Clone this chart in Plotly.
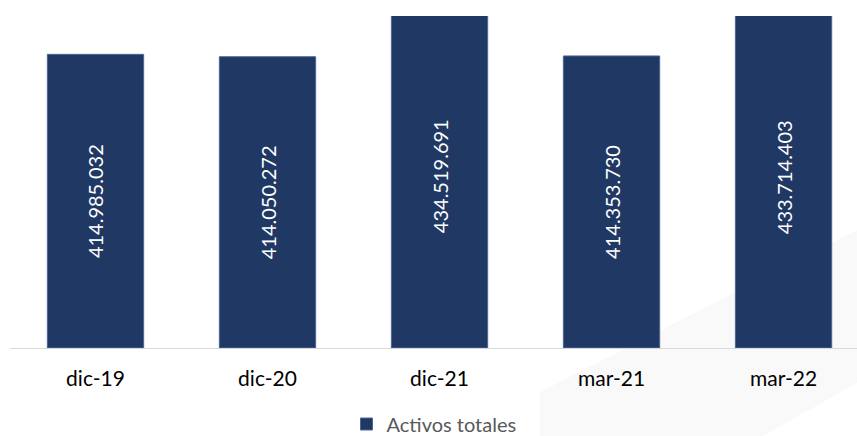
import plotly.graph_objects as go

categories = ["dic-19", "dic-20", "dic-21", "mar-21", "mar-22"]
values = [414.985032, 414.050272, 434.519691, 414.353730, 433.714403]
labels = ["414.985.032", "414.050.272", "434.519.691", "414.353.730", "433.714.403"]
series_name = "Activos totales"
axis_min, axis_max = 300, 430

W, H = 857, 436
L, R, T, B = 10, 0, 16, 88
pw, ph = W - L - R, H - T - B

def px(x):
    return (x - L) / pw

def py(y):
    return (H - B - y) / ph

fig = go.Figure()
fig.add_trace(go.Bar(
    x=categories, y=[v - axis_min for v in values], base=axis_min, name=series_name,
    marker=dict(color="#203864", line=dict(color="#4d6694", width=1)),
    text=labels, textposition="inside", textangle=-90,
    insidetextanchor="middle",
    textfont=dict(family="Lato", size=20, color="white"),
    cliponaxis=True,
))

# faint decorative background shape (bottom right)
path = "M {},{} L {},{} L {},{} L {},{} L {},{} Z".format(
    px(540), py(392), px(857), py(230), px(857), py(383), px(763), py(436), px(540), py(436))
fig.add_shape(type="path", path=path, xref="paper", yref="paper",
              fillcolor="#f9f9f9", line=dict(width=0), layer="below")

fig.update_layout(
    width=W, height=H,
    margin=dict(l=L, r=R, t=T, b=B, autoexpand=False),
    paper_bgcolor="white", plot_bgcolor="rgba(0,0,0,0)",
    bargap=0.44,
    showlegend=True,
    legend=dict(orientation="h", x=px(434), xanchor="center", y=py(424), yanchor="middle",
                font=dict(family="Lato", size=20, color="#595959"),
                bgcolor="rgba(0,0,0,0)", tracegroupgap=0),
    xaxis=dict(range=[-0.497, 4.427], showline=True, linecolor="#d9d9d9", linewidth=1,
               ticks="outside", ticklen=12, tickcolor="rgba(0,0,0,0)",
               tickfont=dict(family="Lato", size=21, color="black"),
               showgrid=False, zeroline=False, fixedrange=True),
    yaxis=dict(range=[axis_min, axis_max], visible=False, showgrid=False, zeroline=False),
    uniformtext=dict(mode=False),
)

fig.write_html("out.html")
